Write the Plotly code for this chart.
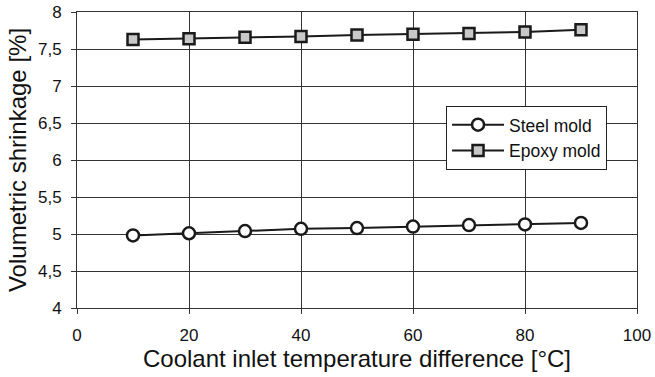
import plotly.graph_objects as go

temp_diff = [10, 20, 30, 40, 50, 60, 70, 80, 90]
steel_mold = [4.98, 5.01, 5.04, 5.07, 5.08, 5.10, 5.12, 5.13, 5.15]
epoxy_mold = [7.63, 7.64, 7.66, 7.67, 7.69, 7.70, 7.71, 7.73, 7.76]
y_ticks = [4, 4.5, 5, 5.5, 6, 6.5, 7, 7.5, 8]
y_tick_labels = ["4", "4,5", "5", "5,5", "6", "6,5", "7", "7,5", "8"]
x_ticks = [0, 20, 40, 60, 80, 100]

fig = go.Figure()
fig.add_trace(go.Scatter(
    x=temp_diff, y=steel_mold, name="Steel mold", mode="lines+markers",
    line=dict(color="#1a1a1a", width=2),
    marker=dict(symbol="circle", size=12, color="white", line=dict(color="#1a1a1a", width=2.5)),
))
fig.add_trace(go.Scatter(
    x=temp_diff, y=epoxy_mold, name="Epoxy mold", mode="lines+markers",
    line=dict(color="#1a1a1a", width=2),
    marker=dict(symbol="square", size=11, color="#c8c8c8", line=dict(color="#1a1a1a", width=2.5)),
))

fig.update_layout(
    width=655, height=377,
    margin=dict(l=77, r=18, t=12, b=69),
    paper_bgcolor="white", plot_bgcolor="white",
    font=dict(family="Liberation Sans, Arial, sans-serif", color="#111", size=17),
    showlegend=True,
    legend=dict(x=0.659, y=0.683, xanchor="left", yanchor="top",
                bgcolor="white", bordercolor="#222", borderwidth=1,
                font=dict(size=17.5), itemwidth=52, tracegroupgap=0),
)
fig.update_xaxes(
    range=[0, 100], tickvals=x_ticks, showgrid=True, gridcolor="#333", gridwidth=1,
    showline=True, linecolor="#333", linewidth=1, mirror=True,
    ticks="outside", ticklen=5, tickcolor="#333", zeroline=False, automargin=False,
    tickfont=dict(size=17), ticklabelstandoff=7, ticklabeloverflow="allow",
    title=dict(text="Coolant inlet temperature difference [°C]", font=dict(size=24), standoff=4),
)
fig.update_yaxes(
    range=[4, 8], tickvals=y_ticks, ticktext=y_tick_labels, showgrid=True, gridcolor="#333", gridwidth=1,
    showline=True, linecolor="#333", linewidth=1, mirror=True,
    ticks="outside", ticklen=5, tickcolor="#333", zeroline=False, automargin=False,
    tickfont=dict(size=17), ticklabelstandoff=6, ticklabeloverflow="allow",
    title=dict(text="Volumetric shrinkage [%]", font=dict(size=24), standoff=4),
)

# remove the page's default body margin so the figure sits at the window's corner
fig.write_html("out.html", config={"displayModeBar": False},
               post_script="document.body.style.margin='0';")
